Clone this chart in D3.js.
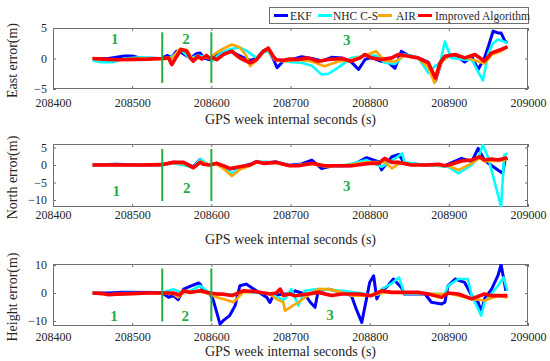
<!DOCTYPE html>
<html>
<head>
<meta charset="utf-8">
<script src="https://cdn.jsdelivr.net/npm/d3@7"></script>
<style>
  body { margin: 0; background: #fff; }
  svg text { font-family: "Liberation Serif", "Times New Roman", serif; }
</style>
</head>
<body>
<div id="chart"></div>
<script>
// series names / colours (legend order)
var seriesNames = ["EKF", "NHC C-S", "AIR", "Improved Algorithm"];
var seriesColors = ["#0000ff", "#00ffff", "#ffa500", "#ff0000"];

// GPS week seconds axis
var xTicks = [208400, 208500, 208600, 208700, 208800, 208900, 209000];
var phaseBounds = [208538, 208600];

// ---- East error (m) ----
var ekfEast = [[208450,0],[208470,0],[208490,0.4],[208500,0.4],[208510,0.1],[208537,0],[208544,0.5],[208550,0.2],[208556,1.2],[208562,1.0],[208569,0.4],[208575,0.1],[208581,0.8],[208586,0.9],[208590,0.1],[208598,-0.2],[208607,0.5],[208615,1.0],[208623,1.3],[208630,0.8],[208640,0.2],[208649,-0.3],[208657,0],[208666,1.3],[208672,1.5],[208678,0],[208683,-1.5],[208691,-0.4],[208701,-0.2],[208714,0.3],[208727,0],[208740,-0.4],[208752,0.2],[208765,0.1],[208777,-0.6],[208786,-1.8],[208794,-0.2],[208802,0.2],[208813,-0.4],[208823,-0.6],[208832,-1.6],[208840,1.2],[208849,0.5],[208861,0.1],[208874,-0.6],[208883,-3.7],[208891,-0.4],[208899,0.4],[208908,0.6],[208920,-0.6],[208929,0.3],[208937,-1.8],[208945,0.1],[208950,2.0],[208956,4.5],[208962,4.2],[208966,4.2],[208971,2.8],[208974,2.6]];
var nhcEast = [[208450,-0.3],[208460,-0.6],[208475,-0.6],[208490,0],[208510,0.2],[208537,0],[208550,0.3],[208562,1.4],[208573,0],[208583,0.5],[208594,0.2],[208602,-0.3],[208611,0.8],[208623,1.5],[208636,1.8],[208644,1.3],[208657,0.1],[208666,1.0],[208672,1.2],[208680,-0.2],[208691,-0.4],[208701,-0.6],[208714,-0.7],[208727,-1.2],[208739,-2.6],[208748,-2.5],[208760,-1.5],[208777,0.1],[208794,0.4],[208808,0.5],[208819,-0.7],[208832,-0.9],[208844,0.65],[208861,0.2],[208874,-2.35],[208882,-1.3],[208889,-0.7],[208895,2.8],[208903,0.1],[208920,-0.2],[208929,-0.2],[208937,-2.2],[208943,-3.6],[208950,0.9],[208956,2.5],[208962,3.1],[208974,2.6]];
var airEast = [[208450,0],[208480,-0.2],[208510,0],[208537,-0.1],[208550,0],[208560,1.6],[208569,1.4],[208577,-0.33],[208586,0.2],[208598,0.1],[208607,1.0],[208615,1.6],[208626,2.3],[208636,1.8],[208644,0.5],[208649,-1.25],[208657,-0.3],[208666,1.1],[208672,1.5],[208680,-0.2],[208691,-0.5],[208710,-0.2],[208727,-0.5],[208743,-1.26],[208760,-0.5],[208777,-0.2],[208794,0.5],[208808,1.2],[208819,-0.4],[208832,-0.5],[208844,0.5],[208861,0.1],[208874,-1.5],[208882,-4.0],[208891,-0.5],[208899,0.4],[208908,0.6],[208920,0.2],[208937,-0.5],[208945,-0.8],[208954,0.6],[208966,1.2],[208974,2.0]];
var impEast = [[208450,0],[208463,-0.1],[208480,-0.2],[208500,-0.15],[208520,-0.1],[208537,0],[208546,0.1],[208550,-1.0],[208556,0.3],[208562,1.5],[208569,1.2],[208573,0.2],[208577,-0.45],[208583,0.4],[208588,-0.1],[208594,0.5],[208598,0],[208602,0.1],[208607,-0.2],[208615,0.65],[208626,1.2],[208632,0.5],[208636,0.1],[208642,-0.3],[208649,-0.7],[208657,-0.2],[208666,1.2],[208672,1.7],[208678,0.4],[208682,-0.2],[208691,-0.3],[208699,-0.1],[208710,-0.16],[208722,0.1],[208735,-0.44],[208748,-0.16],[208765,0],[208777,-0.44],[208788,0.1],[208794,0.65],[208802,0.1],[208815,-0.16],[208828,0.1],[208836,0.65],[208849,0.38],[208861,0.1],[208874,-0.71],[208883,-3.2],[208889,-0.71],[208895,0.38],[208908,0.65],[208920,0.1],[208933,0.65],[208945,-0.44],[208954,0.92],[208966,1.47],[208974,1.9]];

// ---- North error (m) ----
var ekfNorth = [[208450,0],[208480,0.2],[208510,0],[208537,0],[208552,0.8],[208565,0.6],[208577,-0.5],[208586,1.6],[208590,0.3],[208598,0.1],[208607,0.5],[208615,-0.4],[208623,-1.2],[208636,-0.6],[208649,0.2],[208657,1.0],[208666,0.5],[208682,0.9],[208699,-0.1],[208714,0.3],[208727,1.4],[208739,-1.0],[208752,-0.3],[208777,-0.2],[208796,2.1],[208811,0.95],[208815,-1.4],[208828,2.37],[208837,3.0],[208844,0.47],[208870,0],[208895,-0.2],[208916,1.9],[208929,1.0],[208937,4.75],[208945,1.42],[208950,0.5],[208962,-1.44],[208968,-2.4],[208971,1.5],[208974,2.0]];
var nhcNorth = [[208450,0],[208510,0],[208537,0],[208552,0.5],[208577,-0.6],[208586,1.6],[208598,0],[208607,0.3],[208615,-0.6],[208626,-2.4],[208636,-1.0],[208649,0],[208657,1.0],[208682,0.8],[208699,-0.2],[208727,0.5],[208743,-0.3],[208765,-0.2],[208796,1.4],[208815,-0.5],[208828,1.2],[208841,3.3],[208844,0.75],[208870,0],[208899,-0.5],[208912,-2.4],[208929,0],[208937,2.0],[208943,5.7],[208950,1.9],[208966,-11.9],[208970,2.8],[208974,3.3]];
var airNorth = [[208450,0],[208510,0],[208537,0],[208552,0.6],[208565,0.5],[208577,-0.9],[208586,1.0],[208598,0],[208607,0.2],[208615,-1.0],[208626,-3.15],[208636,-1.3],[208649,-0.2],[208657,0.8],[208682,0.6],[208699,-0.3],[208727,0.3],[208743,-0.4],[208765,-0.2],[208796,0.8],[208819,0.9],[208828,-0.96],[208840,0.8],[208853,0],[208870,0],[208899,-0.2],[208912,-1.44],[208929,0.5],[208939,2.0],[208945,1.0],[208966,1.2],[208974,1.6]];
var impNorth = [[208450,0],[208480,0],[208510,0],[208537,0.1],[208552,0.75],[208565,0.75],[208577,-0.77],[208586,0.75],[208590,0.2],[208598,0],[208607,0.47],[208615,-0.2],[208623,-1.0],[208636,-0.48],[208649,0],[208657,0.95],[208666,0.47],[208682,0.75],[208691,0.2],[208699,-0.2],[208710,-0.2],[208727,0.47],[208743,-0.2],[208765,-0.2],[208777,-0.2],[208800,0.47],[208811,0.47],[208819,1.9],[208828,0.75],[208836,0.75],[208853,0],[208870,0],[208887,0.19],[208895,-0.2],[208903,0.19],[208916,1.13],[208929,1.42],[208939,2.37],[208945,1.42],[208954,1.7],[208962,1.42],[208974,2.1]];

// ---- Height error (m) ----
var ekfHeight = [[208450,0],[208470,0],[208490,0.3],[208537,0.2],[208546,-1.5],[208552,-0.9],[208558,-2.4],[208565,1.4],[208573,2.4],[208584,3.6],[208586,3.2],[208590,0.8],[208598,-0.35],[208602,-2.1],[208611,-11.1],[208615,-9.9],[208623,-8.1],[208630,-4.5],[208636,2.6],[208644,3.2],[208657,0.8],[208670,-1.55],[208674,-3.4],[208678,-0.94],[208691,-0.35],[208701,-0.35],[208706,0.8],[208718,-0.35],[208725,-3.3],[208731,-5.1],[208735,0.8],[208748,1.4],[208765,0.24],[208777,-0.94],[208783,-5.7],[208790,-10.5],[208796,-2.1],[208800,3.8],[208805,6.2],[208809,-2.1],[208813,0.24],[208823,2.6],[208830,5.04],[208840,2.0],[208844,-0.35],[208870,-0.35],[208878,-3.3],[208891,-3.9],[208895,-3.3],[208899,2.6],[208908,5.04],[208920,3.8],[208929,-0.94],[208937,-3.3],[208941,-6.9],[208945,-2.1],[208954,1.4],[208962,6.2],[208966,10.2],[208972,0.8]];
var nhcHeight = [[208450,0],[208470,-0.5],[208490,0],[208537,0],[208552,1.4],[208560,0.4],[208573,0.8],[208586,2.6],[208598,0],[208615,-0.7],[208630,-0.4],[208644,0.5],[208674,-0.35],[208691,-2.5],[208693,-2.1],[208701,1.4],[208710,-4.5],[208718,0.8],[208735,1.4],[208765,0.8],[208790,-0.1],[208802,-0.94],[208813,-0.35],[208815,1.4],[208828,3.5],[208837,5.6],[208844,-0.2],[208895,-0.35],[208899,2.6],[208912,5.04],[208924,5.04],[208929,-0.94],[208941,-8.1],[208945,-3.3],[208962,2.6],[208969,5.6],[208974,0.8]];
var airHeight = [[208450,0],[208470,-0.5],[208490,-0.3],[208537,0],[208552,-0.35],[208558,-1.6],[208565,0.24],[208573,0.5],[208586,0.5],[208598,-0.35],[208607,-1.55],[208615,-2.1],[208628,-3.3],[208640,0.24],[208657,0.5],[208674,-0.35],[208682,-2.1],[208691,-3.3],[208693,-6.3],[208710,-3.3],[208725,-0.35],[208735,1.4],[208748,1.4],[208765,0.24],[208777,-0.94],[208794,-0.94],[208811,-0.35],[208819,0.24],[208861,0],[208882,-0.35],[208903,-0.35],[208929,-2.1],[208945,-2.7],[208962,-0.94],[208974,-1.55]];
var impHeight = [[208450,0],[208463,-0.2],[208470,-0.6],[208480,-0.4],[208500,-0.2],[208520,0],[208537,0],[208552,0],[208560,-0.7],[208565,0.8],[208573,0.2],[208586,0.8],[208598,0],[208607,-0.35],[208615,-0.4],[208626,-0.9],[208640,0.8],[208657,0.5],[208674,-0.35],[208682,0],[208687,1.4],[208691,-0.9],[208699,-0.35],[208706,-1.0],[208722,-0.35],[208735,0.24],[208752,-0.9],[208765,-0.35],[208786,-0.35],[208802,-0.94],[208815,0.8],[208828,0.24],[208840,0.24],[208861,0.24],[208874,-0.35],[208891,-1.55],[208899,0],[208912,-0.35],[208929,-2.1],[208945,-0.35],[208954,-0.94],[208974,-0.94]];

var panels = [
  { label: "East error(m)",   top: 28,  bottom: 89,  domain: [-5, 5],       ticks: [-5, 0, 5],
    series: [ekfEast, nhcEast, airEast, impEast],
    phaseSpan: [-4.0, 4.3], phaseLabels: [[208478, 3.3], [208568, 3.3], [208771, 3.0]], tickPad: 9, xlabY: 124 },
  { label: "North error(m)",  top: 144, bottom: 207, domain: [-12, 6],      ticks: [-10, -5, 0, 5],
    series: [ekfNorth, nhcNorth, airNorth, impNorth],
    phaseSpan: [-10.3, 4.6], phaseLabels: [[208480, -7.3], [208569, -6.5], [208771, -5.9]], tickPad: 3, xlabY: 244 },
  { label: "Height error(m)", top: 264, bottom: 326, domain: [-11.8, 10.4], ticks: [-10, 0, 10],
    series: [ekfHeight, nhcHeight, airHeight, impHeight],
    phaseSpan: [-10.2, 8.8], phaseLabels: [[208477, -8.3], [208567, -8.0], [208750, -7.6]], tickPad: 6, xlabY: 356 }
];
var phaseNames = ["1", "2", "3"];

var W = 550, H = 361;
var left = 53, right = 528;
var lineWidths = [3, 2.6, 2.6, 3.6];
var axisCol = "#707070", textCol = "#262626", green = "#1fae48";

var svg = d3.select("#chart").append("svg")
  .attr("width", W).attr("height", H);

var x = d3.scaleLinear().domain([208400, 209000]).range([left, right]);

panels.forEach(function(p, i) {
  var y = d3.scaleLinear().domain(p.domain).range([p.bottom, p.top]);
  var g = svg.append("g");

  g.append("rect")
    .attr("x", left).attr("y", p.top)
    .attr("width", right - left).attr("height", p.bottom - p.top)
    .attr("fill", "#fff");

  g.append("clipPath").attr("id", "clip" + i)
    .append("rect")
    .attr("x", left).attr("y", p.top)
    .attr("width", right - left).attr("height", p.bottom - p.top);

  // axes with inward ticks (box style)
  var ax = g.append("g").attr("transform", "translate(0," + p.bottom + ")")
    .call(d3.axisBottom(x).tickValues(xTicks).tickFormat(d3.format("d"))
      .tickSizeInner(-3).tickSizeOuter(0).tickPadding(p.tickPad));
  var axTop = g.append("g").attr("transform", "translate(0," + p.top + ")")
    .call(d3.axisTop(x).tickValues(xTicks).tickSizeInner(-3).tickSizeOuter(0).tickFormat(""));
  var ay = g.append("g").attr("transform", "translate(" + left + ",0)")
    .call(d3.axisLeft(y).tickValues(p.ticks).tickSizeInner(-3).tickSizeOuter(0).tickPadding(6));
  var ayR = g.append("g").attr("transform", "translate(" + right + ",0)")
    .call(d3.axisRight(y).tickValues(p.ticks).tickSizeInner(-3).tickSizeOuter(0).tickFormat(""));
  [ax, axTop, ay, ayR].forEach(function(a) {
    a.select(".domain").remove();
    a.selectAll("line").attr("stroke", axisCol);
    a.selectAll("text").attr("fill", textCol).style("font-size", "12px");
  });

  g.append("rect")
    .attr("x", left + 0.5).attr("y", p.top + 0.5)
    .attr("width", right - left - 1).attr("height", p.bottom - p.top - 1)
    .attr("fill", "none").attr("stroke", axisCol).attr("stroke-width", 1);

  // series lines
  var line = d3.line().x(function(d) { return x(d[0]); }).y(function(d) { return y(d[1]); });
  var lg = g.append("g").attr("clip-path", "url(#clip" + i + ")");
  p.series.forEach(function(s, k) {
    lg.append("path").datum(s)
      .attr("d", line)
      .attr("fill", "none")
      .attr("stroke", seriesColors[k])
      .attr("stroke-width", lineWidths[k])
      .attr("stroke-linejoin", "round");
  });

  // phase separators
  phaseBounds.forEach(function(b) {
    g.append("line")
      .attr("x1", x(b)).attr("x2", x(b))
      .attr("y1", y(p.phaseSpan[1])).attr("y2", y(p.phaseSpan[0]))
      .attr("stroke", green).attr("stroke-width", 2);
  });
  p.phaseLabels.forEach(function(d, k) {
    g.append("text")
      .attr("x", x(d[0])).attr("y", y(d[1]))
      .attr("dy", "0.35em")
      .attr("text-anchor", "middle")
      .attr("fill", green)
      .style("font-size", "15px").style("font-weight", "bold")
      .text(phaseNames[k]);
  });

  // labels
  g.append("text")
    .attr("transform", "translate(17," + ((p.top + p.bottom) / 2 + 2) + ") rotate(-90)")
    .attr("text-anchor", "middle")
    .attr("fill", textCol)
    .style("font-size", "14px")
    .text(p.label);
  g.append("text")
    .attr("x", (left + right) / 2).attr("y", p.xlabY)
    .attr("text-anchor", "middle")
    .attr("fill", textCol)
    .style("font-size", "14px")
    .text("GPS week internal seconds (s)");
});

// legend
var legX = [274, 318, 378, 418], legTx = [290, 333, 396, 435];
var leg = svg.append("g");
leg.append("rect")
  .attr("x", 269.5).attr("y", 7.5).attr("width", 259).attr("height", 16)
  .attr("fill", "#fff").attr("stroke", axisCol);
seriesNames.forEach(function(n, k) {
  leg.append("line")
    .attr("x1", legX[k]).attr("x2", legX[k] + 14)
    .attr("y1", 15.5).attr("y2", 15.5)
    .attr("stroke", seriesColors[k]).attr("stroke-width", 3);
  leg.append("text")
    .attr("x", legTx[k]).attr("y", 19.5)
    .attr("fill", textCol)
    .style("font-size", "11.5px")
    .text(n);
});
</script>
</body>
</html>
